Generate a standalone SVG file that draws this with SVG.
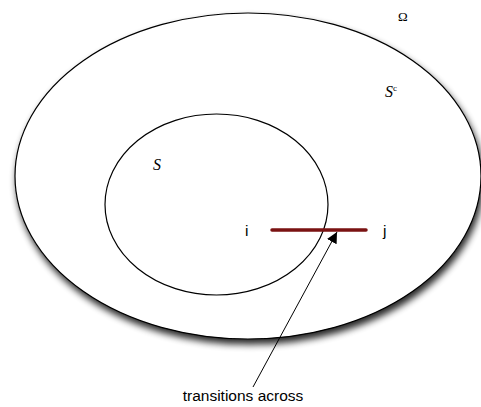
<svg xmlns="http://www.w3.org/2000/svg" width="481" height="407" viewBox="0 0 481 407">
<defs>
<style>
.sh{fill:#fff;stroke:#000;stroke-width:1.2}
.lbl{font-family:"Liberation Sans",Arial,sans-serif;font-size:15.5px;fill:#000}
.math{font-family:"Liberation Serif",serif;font-style:italic;font-size:16px;fill:#000}
</style>
<filter id="ds" x="-10%" y="-10%" width="125%" height="130%">
<feGaussianBlur in="SourceAlpha" stdDeviation="3.5"/>
<feOffset dx="2" dy="5" result="b"/>
<feComponentTransfer><feFuncA type="linear" slope="0.85"/></feComponentTransfer>
<feMerge><feMergeNode/><feMergeNode in="SourceGraphic"/></feMerge>
</filter>
<marker id="ah" viewBox="0 0 10 10" refX="10" refY="5" markerWidth="11" markerHeight="11" markerUnits="userSpaceOnUse" orient="auto">
<path d="M0,0 L10,5 L0,10 z" fill="#000"/>
</marker>
</defs>
<g id="omega">
<ellipse class="sh" cx="248" cy="176" rx="233" ry="163" filter="url(#ds)"/>
<text x="398" y="21" style="font-family:'Liberation Serif',serif;font-size:13px">Ω</text>
<text class="math" x="385" y="97">S<tspan font-size="9" dy="-6" font-style="normal">c</tspan></text>
</g>
<g id="S">
<ellipse class="sh" cx="216.5" cy="204.5" rx="111.5" ry="90.5"/>
<text class="math" x="153" y="170">S</text>
</g>
<g id="i"><text class="lbl" x="245" y="236">i</text></g>
<g id="j"><text class="lbl" x="383" y="236">j</text></g>
<g id="connectors">
<line x1="272" y1="230" x2="366" y2="230" stroke="#7a1212" stroke-width="3.5" stroke-linecap="round"/>
<line x1="253" y1="387" x2="337" y2="232" stroke="#000" stroke-width="1" marker-end="url(#ah)"/>
</g>
<g id="note"><text class="lbl" x="243" y="401" text-anchor="middle">transitions across</text></g>
</svg>
